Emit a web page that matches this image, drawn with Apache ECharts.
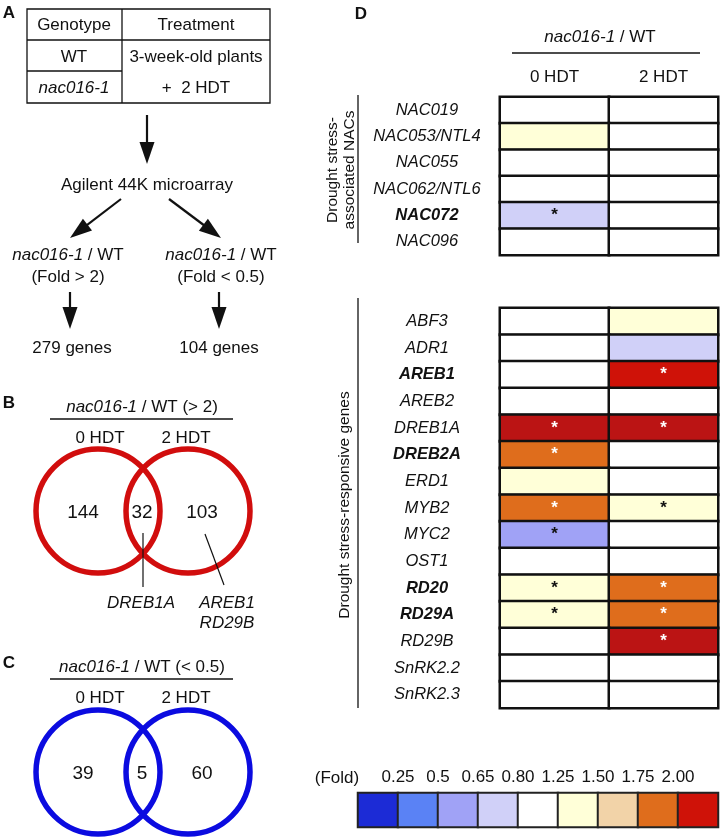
<!DOCTYPE html>
<html>
<head>
<meta charset="utf-8">
<script src="https://cdn.jsdelivr.net/npm/echarts@6/dist/echarts.min.js"></script>
<style>
  html, body { margin: 0; padding: 0; background: #fff; }
  #main { width: 722px; height: 840px; }
</style>
</head>
<body>
<div id="main"></div>
<script>
// flow chart counts (panel A)
var geneTotals = [279, 104];
// venn counts: [0 HDT only, both, 2 HDT only]
var vennUp = [144, 32, 103];
var vennDown = [39, 5, 60];

// heatmap D - drought stress-associated NACs
var nacGenes = ['NAC019', 'NAC053/NTL4', 'NAC055', 'NAC062/NTL6', 'NAC072', 'NAC096'];
var nacFold0 = [1.0, 1.35, 1.0, 1.0, 0.7, 1.0];
var nacFold2 = [1.0, 1.0, 1.0, 1.0, 1.0, 1.0];
var nacSig0 = [0, 0, 0, 0, 1, 0];
var nacSig2 = [0, 0, 0, 0, 0, 0];

// heatmap D - drought stress-responsive genes
var droughtGenes = ['ABF3', 'ADR1', 'AREB1', 'AREB2', 'DREB1A', 'DREB2A', 'ERD1', 'MYB2', 'MYC2', 'OST1', 'RD20', 'RD29A', 'RD29B', 'SnRK2.2', 'SnRK2.3'];
var drFold0 = [1.0, 1.0, 1.0, 1.0, 4.0, 1.9, 1.35, 1.9, 0.6, 1.0, 1.35, 1.35, 1.0, 1.0, 1.0];
var drFold2 = [1.35, 0.7, 2.5, 1.0, 4.0, 1.0, 1.0, 1.35, 1.0, 1.0, 1.9, 1.9, 3.5, 1.0, 1.0];
var drSig0 = [0, 0, 0, 0, 1, 1, 0, 1, 1, 0, 1, 1, 0, 0, 0];
var drSig2 = [0, 0, 1, 0, 1, 0, 0, 1, 0, 0, 1, 1, 1, 0, 0];
var boldGenes = ['NAC072', 'AREB1', 'DREB2A', 'RD20', 'RD29A'];
var hdt = ['0 HDT', '2 HDT'];

// colour key
var foldTicks = ['0.25', '0.5', '0.65', '0.80', '1.25', '1.50', '1.75', '2.00'];
var keyFold = [0.2, 0.4, 0.6, 0.7, 1.0, 1.4, 1.6, 1.9, 2.5];

var FONT = '"Liberation Sans", Arial, sans-serif';
var INK = '#111';
var FS = 17;

function txt(x, y, s, o) {
  var st = {
    text: s, fill: INK, fontSize: FS, fontFamily: FONT,
    align: 'center', textAlign: 'center', verticalAlign: 'middle', textVerticalAlign: 'middle',
    rich: {
      i: { fontStyle: 'italic', fontSize: FS, fontFamily: FONT, fill: INK },
      n: { fontSize: FS, fontFamily: FONT, fill: INK }
    }
  };
  for (var k in o) st[k] = o[k];
  return { type: 'text', x: x, y: y, style: st, silent: true };
}
function ln(x1, y1, x2, y2, w) {
  return { type: 'line', shape: { x1: x1, y1: y1, x2: x2, y2: y2 }, style: { stroke: INK, lineWidth: w || 1.3 }, silent: true };
}
function arrow(x1, y1, x2, y2) {
  var dx = x2 - x1, dy = y2 - y1, len = Math.sqrt(dx * dx + dy * dy);
  var ux = dx / len, uy = dy / len, L = 22, W = 7.5;
  var bx = x2 - ux * L, by = y2 - uy * L;
  return [ln(x1, y1, bx + ux * 2, by + uy * 2, 2.2),
    { type: 'polygon', silent: true, shape: { points: [[x2, y2], [bx - uy * W, by + ux * W], [bx + uy * W, by - ux * W]] }, style: { fill: INK } }];
}
function venn(cy, color, counts, title, topY) {
  return [
    txt(142, topY, title, {}),
    ln(50, topY + 12, 233, topY + 12, 1.3),
    txt(100, topY + 31, '0 HDT', {}),
    txt(186, topY + 31, '2 HDT', {}),
    { type: 'circle', silent: true, shape: { cx: 98, cy: cy, r: 62 }, style: { fill: 'none', stroke: color, lineWidth: 5.5 } },
    { type: 'circle', silent: true, shape: { cx: 188, cy: cy, r: 62 }, style: { fill: 'none', stroke: color, lineWidth: 5.5 } },
    txt(83, cy + 2, String(counts[0]), { fontSize: 19 }),
    txt(142, cy + 2, String(counts[1]), { fontSize: 19 }),
    txt(202, cy + 2, String(counts[2]), { fontSize: 19 })
  ];
}

var els = [];
// panel letters
['A', 'B', 'C'].forEach(function (c, i) {
  els.push(txt(9, [13, 403, 663][i], c, { fontWeight: 'bold', fontSize: 17 }));
});
els.push(txt(361, 14, 'D', { fontWeight: 'bold', fontSize: 17 }));

// panel A table
els.push({ type: 'rect', silent: true, shape: { x: 27, y: 9, width: 243, height: 94 }, style: { fill: 'none', stroke: INK, lineWidth: 1.3 } });
els.push(ln(27, 40, 270, 40));
els.push(ln(27, 71, 122, 71));
els.push(ln(122, 9, 122, 103));
els.push(txt(74, 25, 'Genotype', {}));
els.push(txt(196, 25, 'Treatment', {}));
els.push(txt(74, 57, 'WT', {}));
els.push(txt(74, 88, 'nac016-1', { fontStyle: 'italic' }));
els.push(txt(196, 57, '3-week-old plants', {}));
els.push(txt(196, 88, '+  2 HDT', {}));
els = els.concat(arrow(147, 115, 147, 164));
els.push(txt(147, 185, 'Agilent 44K microarray', {}));
els = els.concat(arrow(121, 199, 70, 238));
els = els.concat(arrow(169, 199, 221, 238));
var twoLineRich = { i: { fontStyle: 'italic', fontSize: FS, fontFamily: FONT, fill: INK, lineHeight: 22 } };
els.push(txt(68, 266, '{i|nac016-1} / WT\n(Fold > 2)', { lineHeight: 22, rich: twoLineRich }));
els.push(txt(221, 266, '{i|nac016-1} / WT\n(Fold < 0.5)', { lineHeight: 22, rich: twoLineRich }));
els = els.concat(arrow(70, 292, 70, 329));
els = els.concat(arrow(219, 292, 219, 329));
els.push(txt(72, 348, geneTotals[0] + ' genes', {}));
els.push(txt(219, 348, geneTotals[1] + ' genes', {}));

// panel B and C
els = els.concat(venn(511, '#d10d0d', vennUp, '{i|nac016-1} / WT (> 2)', 407));
els.push(ln(143, 533, 143, 587, 1.2));
els.push(ln(205, 534, 224, 585, 1.2));
els.push(txt(141, 603, 'DREB1A', { fontStyle: 'italic' }));
els.push(txt(227, 613, 'AREB1\nRD29B', { fontStyle: 'italic', lineHeight: 20 }));
els = els.concat(venn(772, '#0b0be0', vennDown, '{i|nac016-1} / WT (< 0.5)', 667));

// panel D header + side labels
els.push(txt(600, 37, '{i|nac016-1} / WT', {}));
els.push(ln(512, 53, 700, 53, 1.3));
els.push(ln(358, 95, 358, 243, 1.3));
els.push(ln(358, 298, 358, 708, 1.3));
var side1 = txt(341, 170, 'Drought stress-\nassociated NACs', { lineHeight: 17, fontSize: 15.5 });
side1.rotation = Math.PI / 2;
els.push(side1);
var side2 = txt(345, 505, 'Drought stress-responsive genes', { fontSize: 15.5 });
side2.rotation = Math.PI / 2;
els.push(side2);
els.push(txt(337, 778, '(Fold)', {}));

function cell(x, y, v, s) {
  return { value: [x, y, v], label: { show: !!s, formatter: '*', color: v > 1.75 ? '#fff' : INK } };
}
function cells(f0, f2, s0, s2) {
  var d = [];
  f0.forEach(function (v, i) {
    d.push(cell(0, i, v, s0[i]));
    d.push(cell(1, i, f2[i], s2[i]));
  });
  return d;
}
function geneLabel(v) {
  return boldGenes.indexOf(v) >= 0 ? '{b|' + v + '}' : '{n|' + v + '}';
}
var yLab = {
  align: 'center', margin: 73, formatter: geneLabel,
  rich: {
    n: { fontStyle: 'italic', fontSize: 16.5, fontFamily: FONT, color: INK },
    b: { fontStyle: 'italic', fontWeight: 'bold', fontSize: 16.5, fontFamily: FONT, color: INK }
  }
};

var heatStyle = { borderColor: INK, borderWidth: 2.5 };
var heatLabel = { fontSize: 17, fontWeight: 'bold', fontFamily: FONT };

var myChart = echarts.init(document.getElementById('main'));
var option = {
  backgroundColor: '#fff',
  animation: false,
  textStyle: { fontFamily: FONT },
  grid: [
    { left: 500, top: 97, width: 218, height: 158 },
    { left: 500, top: 308, width: 218, height: 400 },
    { left: 358, top: 793, width: 360, height: 34 }
  ],
  xAxis: [
    { gridIndex: 0, type: 'category', data: hdt, position: 'top', axisLine: { show: false }, axisTick: { show: false },
      axisLabel: { margin: 11, fontSize: FS, color: INK, fontFamily: FONT } },
    { gridIndex: 1, type: 'category', data: hdt, show: false },
    { gridIndex: 2, type: 'category', data: keyFold.map(String), show: false },
    { gridIndex: 2, type: 'value', min: 0, max: 9, interval: 1, position: 'top',
      axisLine: { show: false }, axisTick: { show: false }, splitLine: { show: false },
      axisLabel: { margin: 7, fontSize: FS, color: INK, fontFamily: FONT,
        formatter: function (v) { return foldTicks[v - 1] || ''; } } }
  ],
  yAxis: [
    { gridIndex: 0, type: 'category', data: nacGenes, inverse: true, axisLine: { show: false }, axisTick: { show: false }, axisLabel: yLab },
    { gridIndex: 1, type: 'category', data: droughtGenes, inverse: true, axisLine: { show: false }, axisTick: { show: false }, axisLabel: yLab },
    { gridIndex: 2, type: 'category', data: ['key'], show: false }
  ],
  visualMap: {
    type: 'piecewise', show: false, dimension: 2, seriesIndex: [0, 1, 2],
    pieces: [
      { lt: 0.25, color: '#1c2bd6' },
      { gte: 0.25, lt: 0.5, color: '#5a82f5' },
      { gte: 0.5, lt: 0.65, color: '#a0a2f6' },
      { gte: 0.65, lt: 0.8, color: '#d0d0f8' },
      { gte: 0.8, lt: 1.25, color: '#ffffff' },
      { gte: 1.25, lt: 1.5, color: '#ffffd8' },
      { gte: 1.5, lt: 1.75, color: '#f2d3a8' },
      { gte: 1.75, lt: 2, color: '#df6d1c' },
      { gte: 2, lt: 3, color: '#cf1208' },
      { gte: 3, color: '#bb1414' }
    ]
  },
  series: [
    { type: 'heatmap', xAxisIndex: 0, yAxisIndex: 0, data: cells(nacFold0, nacFold2, nacSig0, nacSig2),
      itemStyle: heatStyle, label: heatLabel, emphasis: { disabled: true } },
    { type: 'heatmap', xAxisIndex: 1, yAxisIndex: 1, data: cells(drFold0, drFold2, drSig0, drSig2),
      itemStyle: heatStyle, label: heatLabel, emphasis: { disabled: true } },
    { type: 'heatmap', xAxisIndex: 2, yAxisIndex: 2, data: keyFold.map(function (v, i) { return [i, 0, v]; }),
      itemStyle: { borderColor: '#222', borderWidth: 2 }, emphasis: { disabled: true } }
  ],
  graphic: { elements: els }
};
myChart.setOption(option);
</script>
</body>
</html>
